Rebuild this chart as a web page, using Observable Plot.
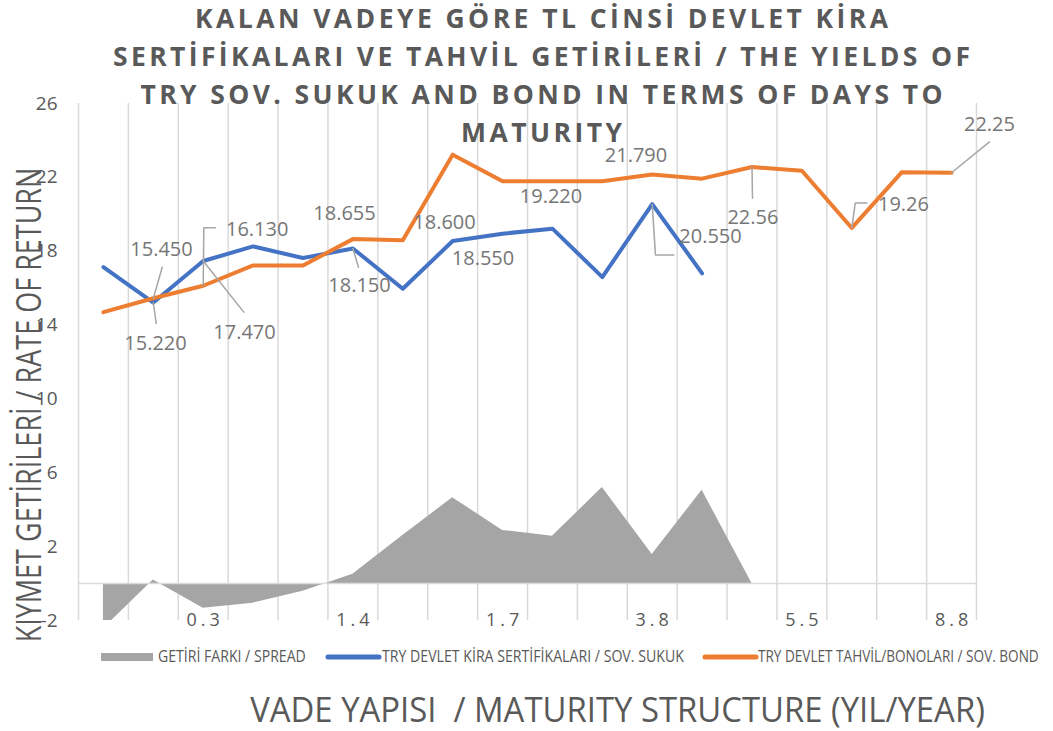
<!DOCTYPE html>
<html><head><meta charset="utf-8">
<script src="https://cdn.jsdelivr.net/npm/d3@7"></script>
<script src="https://cdn.jsdelivr.net/npm/@observablehq/plot@0.6"></script>
<style>
html,body{margin:0;padding:0;background:#fff;}
#chart svg{display:block;}
</style></head>
<body><div id="chart"></div>
<script>
// ---------- data ----------
const categoryCount = 18;
const xTickPositions = [2, 5, 8, 11, 14, 17];
const xTickLabels = ["0.3", "1.4", "1.7", "3.8", "5.5", "8.8"];
const yTicks = [-2, 2, 6, 10, 14, 18, 22, 26];

const sukuk = [17.14, 15.22, 17.47, 18.26, 17.63, 18.15, 15.97, 18.55, 18.95, 19.22, 16.60, 20.55, 16.80];
const bond  = [14.70, 15.45, 16.13, 17.23, 17.23, 18.655, 18.60, 23.23, 21.79, 21.79, 21.79, 22.15, 21.93, 22.56, 22.36, 19.26, 22.27, 22.25];
const spread = [-2.44, 0.20, -1.33, -1.06, -0.41, 0.50, 2.60, 4.65, 2.88, 2.56, 5.20, 1.58, 5.05, 0];

const seriesNames = ["GETİRİ FARKI / SPREAD", "TRY DEVLET KİRA SERTİFİKALARI / SOV. SUKUK", "TRY DEVLET TAHVİL/BONOLARI / SOV. BOND"];
const titleLines = ["KALAN VADEYE GÖRE TL CİNSİ DEVLET KİRA", "SERTİFİKALARI VE TAHVİL GETİRİLERİ / THE YIELDS OF", "TRY SOV. SUKUK AND BOND IN TERMS OF DAYS TO", "MATURITY"];
const xTitle = "VADE YAPISI  / MATURITY STRUCTURE (YIL/YEAR)";
const yTitle = "KIYMET GETİRİLERİ / RATE OF RETURN";

// data labels (text, series, category index)
const labelTexts  = ["15.450", "15.220", "16.130", "17.470", "18.655", "18.150", "18.600", "18.550", "19.220", "21.790", "20.550", "22.56", "19.26", "22.25"];
const labelSeries = ["bond", "sukuk", "bond", "sukuk", "bond", "sukuk", "bond", "sukuk", "sukuk", "bond", "sukuk", "bond", "bond", "bond"];
const labelIndex  = [1, 1, 2, 2, 5, 5, 6, 7, 9, 10, 11, 13, 15, 17];

// ---------- layout (offsets from anchor point, in category units / value units) ----------
const labelOffset = [
  [0.164, 2.64], [0.043, -2.22], [1.082, 3.05], [0.827, -3.87], [-0.168, 1.385], [0.132, -2.01],
  [0.836, 0.95], [0.608, -0.94], [-0.029, 1.72], [0.675, 1.39], [1.168, -1.78], [0.018, -2.73],
  [1.036, 1.29], [0.76, 2.61]
];
const leaderPath = [
  [[0.178, 1.68], [0, 0]],
  [[0, 0], [0.057, -1.13]],
  [[0, 0], [0.012, 3.14], [0.246, 3.14]],
  [[0, 0], [0.813, -2.77]],
  null,
  [[0, 0], [0.112, -1.02]],
  null, null, null, null,
  [[0, 0], [0.065, -2.75], [0.432, -2.75]],
  [[0, 0], [0.01, -1.69]],
  [[0, 0], [0.07, 1.35], [0.30, 1.35]],
  [[0, 0], [0.76, 1.67]]
];

// ---------- build ----------
const series = {sukuk, bond};
const rows = arr => arr.map((v, i) => ({i, v})).filter(d => d.v != null);
const labelRows = labelTexts.map((t, k) => {
  const v = series[labelSeries[k]][labelIndex[k]];
  return {t, x: labelIndex[k] + labelOffset[k][0], y: v + labelOffset[k][1]};
});
const leaderRows = [];
leaderPath.forEach((p, k) => {
  if (!p) return;
  const v = series[labelSeries[k]][labelIndex[k]];
  p.forEach(([dx, dy]) => leaderRows.push({k, x: labelIndex[k] + dx, y: v + dy}));
});

const GRAY = "#595959";
const chart = Plot.plot({
  width: 1053, height: 731,
  marginLeft: 78, marginRight: 77, marginTop: 103, marginBottom: 111,
  x: {type: "linear", domain: [-0.5, categoryCount - 0.5], axis: null},
  y: {domain: [-2, 26], axis: null},
  style: {fontFamily: "'Open Sans', sans-serif", background: "#fff"},
  marks: [
    Plot.ruleX(d3.range(-0.5, categoryCount, 1), {stroke: "#d9d9d9", strokeWidth: 1.5}),
    Plot.areaY(rows(spread), {x: "i", y: "v", fill: "#a5a5a5", clip: true}),
    Plot.ruleY([0], {stroke: "#d9d9d9", strokeWidth: 1.5}),
    Plot.line(rows(sukuk), {x: "i", y: "v", stroke: "#4472c4", strokeWidth: 4, strokeLinejoin: "round", strokeLinecap: "round"}),
    Plot.line(rows(bond), {x: "i", y: "v", stroke: "#ed7d31", strokeWidth: 4, strokeLinejoin: "round", strokeLinecap: "round"}),
    Plot.axisY(yTicks, {anchor: "left", tickSize: 0, tickPadding: 21, fontSize: 19, fill: GRAY, label: null, tickFormat: d => String(d)}),
    Plot.text(xTickPositions, {x: d => d, y: () => -2, text: (d, k) => xTickLabels[k], fontSize: 18, fill: GRAY, lineAnchor: "middle", dx: 2}),
    Plot.line(leaderRows, {x: "x", y: "y", z: "k", stroke: "#a6a6a6", strokeWidth: 1.5}),
    Plot.text(labelRows, {x: "x", y: "y", text: "t", fontSize: 20, fill: "#767676", lineAnchor: "middle"})
  ]
});
document.getElementById("chart").appendChild(chart);

const svg = d3.select(chart);
svg.selectAll("text").filter(function () { return xTickLabels.includes(this.textContent); })
  .style("letter-spacing", "4px");

// title
const titleBase = [27.5, 65.5, 104, 142];
const titleWidth = [693, 857, 802, 161];
titleLines.forEach((t, k) => {
  svg.append("text").attr("x", 541.5).attr("y", titleBase[k])
    .attr("text-anchor", "middle").attr("fill", GRAY)
    .attr("font-family", "'Open Sans', sans-serif").attr("font-weight", 700).attr("font-size", 26.5)
    .attr("textLength", titleWidth[k]).attr("lengthAdjust", "spacing")
    .text(t);
});

// text squeezed horizontally to a target width
function fitText(transform, str, target, size, anchor) {
  const g = svg.append("g");
  const t = g.append("text").attr("x", 0).attr("y", 0).attr("text-anchor", anchor)
    .attr("font-family", "'Open Sans', sans-serif").attr("font-size", size).attr("fill", GRAY)
    .style("white-space", "pre").text(str);
  const natural = t.node().getComputedTextLength();
  g.attr("transform", `${transform} scale(${target / natural},1)`);
  return g;
}

// legend
svg.append("rect").attr("x", 101).attr("y", 653).attr("width", 52).attr("height", 8).attr("fill", "#a5a5a5");
fitText("translate(158,662)", seriesNames[0], 148, 15.5, "start");
svg.append("line").attr("x1", 328).attr("x2", 379).attr("y1", 657).attr("y2", 657).attr("stroke", "#4472c4").attr("stroke-width", 5).attr("stroke-linecap", "round");
fitText("translate(382,662)", seriesNames[1], 302, 15.5, "start");
svg.append("line").attr("x1", 705).attr("x2", 756).attr("y1", 657).attr("y2", 657).attr("stroke", "#ed7d31").attr("stroke-width", 5).attr("stroke-linecap", "round");
fitText("translate(758,662)", seriesNames[2], 281, 15.5, "start");

// axis titles
fitText("translate(617.5,722)", xTitle, 735, 35, "middle");
fitText("translate(41,405) rotate(-90)", yTitle, 475, 35, "middle");
</script>
</body></html>
